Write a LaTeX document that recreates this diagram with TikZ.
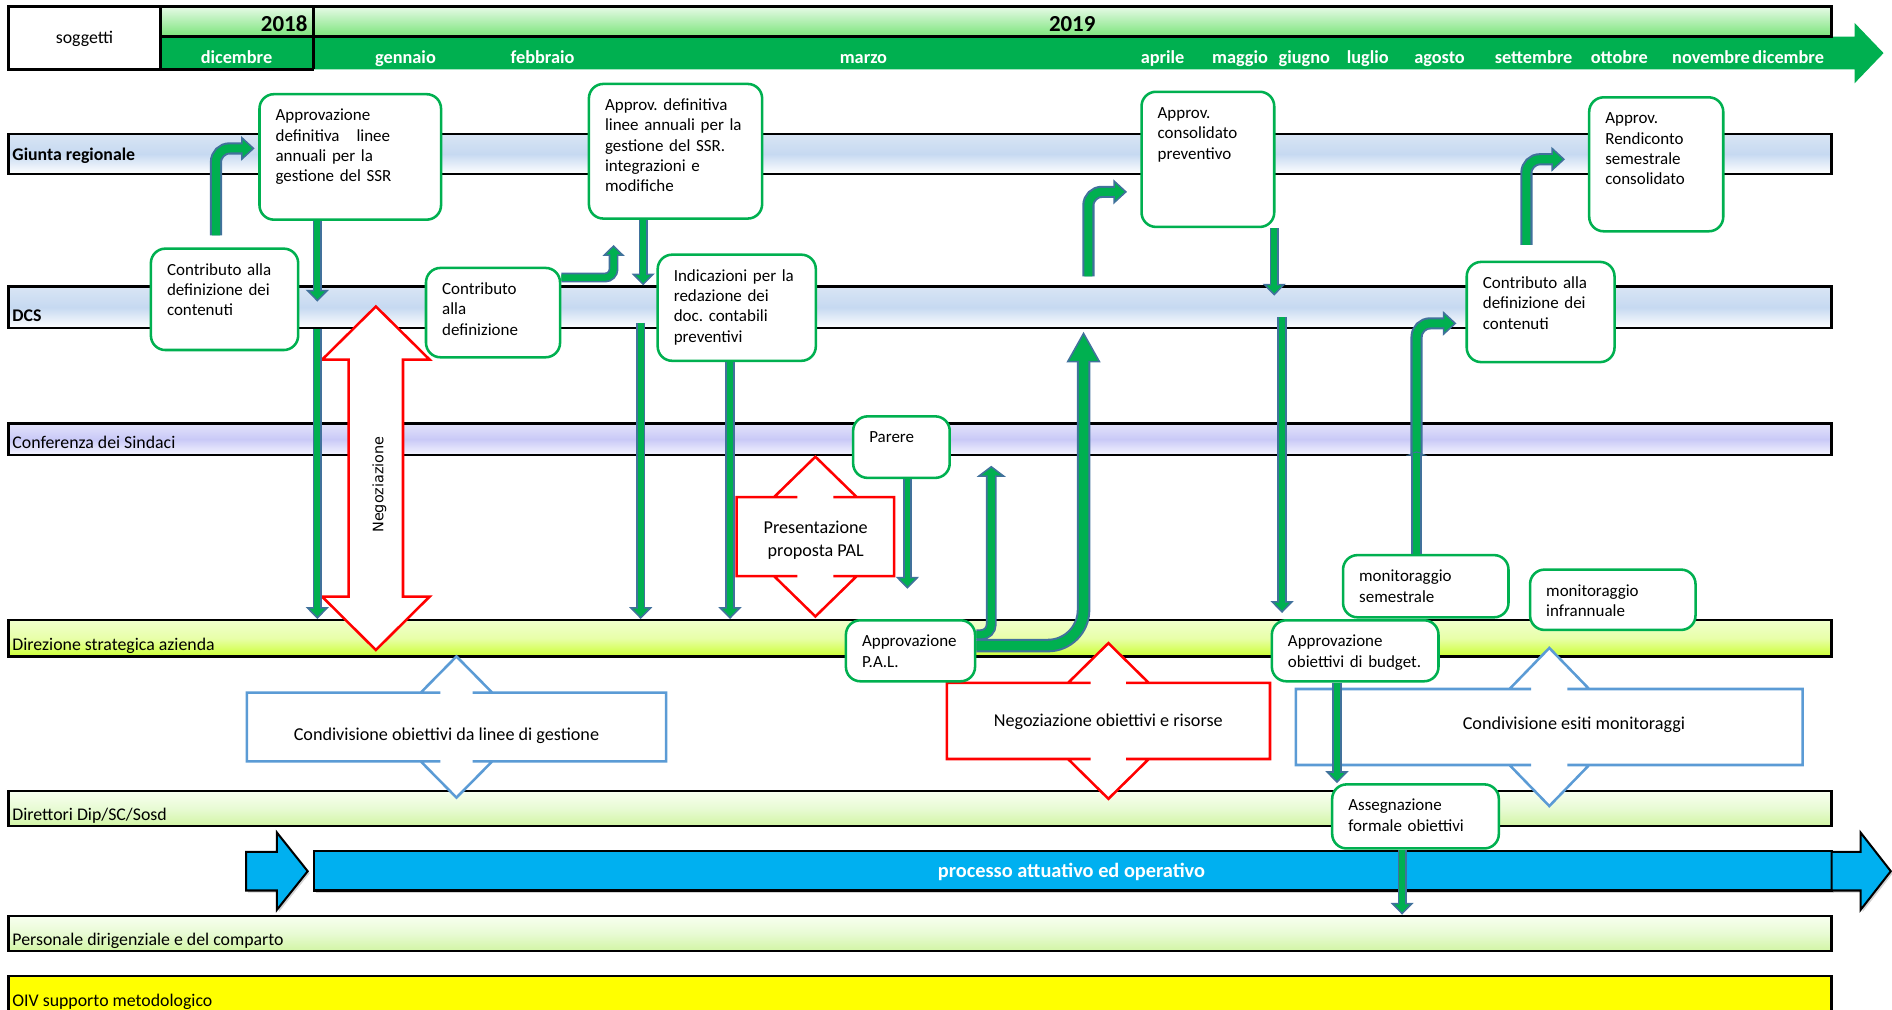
\documentclass[tikz,border=0pt]{standalone}
\usepackage{fontspec}
\setmainfont{Carlito}
\newfontfamily\negfont{DejaVu Sans}
\usetikzlibrary{arrows.meta,fit,shadows}
\definecolor{grn}{HTML}{00B050}
\definecolor{stl}{HTML}{41719C}
\definecolor{cblue}{HTML}{5B9BD5}
\definecolor{cyn}{HTML}{00B0F0}
\definecolor{hdtop}{HTML}{E6FAE6}
\definecolor{hdbot}{HTML}{7AE47A}
\pgfdeclarelayer{back}
\pgfsetlayers{back,main}
\frenchspacing

\begin{document}
\begin{tikzpicture}[x=0.025cm, y=-0.025cm, line join=miter,
    lane/.style={draw, line width=1.4pt, inner sep=0pt},
    lbl/.style={anchor=base west, inner sep=0pt, font=\fontsize{10.5}{12}\selectfont},
    month/.style={anchor=base, inner sep=0pt, text=white, font=\fontsize{10.8}{13}\selectfont\bfseries},
    gbox/.style 2 args={draw=grn, line width=1.5pt, rounded corners=8.5pt, fill=white,
      anchor=north west, inner xsep=9.5pt, inner ysep=9pt, align=left,
      text width=#1, text height=6.65pt, text depth=#2, font=\fontsize{10}{12}\selectfont},
    blk/.style n args={4}{draw=stl, line width=#1,
      -{Triangle[width=#3, length=#4, fill=grn, color=stl, line width=0.9pt]},
      postaction={draw=grn, line width=#2, -, shorten >=0.5*#4}},
    tharr/.style={blk={5.4pt}{3.4pt}{13.5pt}{7pt}},
    bnarr/.style={blk={7.2pt}{4.8pt}{14.5pt}{8pt}, rounded corners=8pt},
    callout/.style={line width=1.5pt, fill=white},
    ctxt/.style={align=center, inner sep=0pt, font=\fontsize{10.7}{13.5}\selectfont},
    procarr/.style={fill=cyn, draw=black, line width=1.2pt,
      drop shadow={shadow xshift=1.2pt, shadow yshift=-1.2pt, opacity=0.35}}]
  \useasboundingbox (0,0) rectangle (1568,837);

  % lanes
  \begin{pgfonlayer}{back}
  \foreach \n/\ya/\yb/\ct/\cm/\cb in {giunta/111/144/D9E5F4/C6D9F1/FFFFFF,
      dcs/237.5/272/D9E5F4/C6D9F1/FFFFFF, conf/351/377/E3E3FB/C9C9F7/F5F5FF,
      dir/514/544/F0FFCC/E8FFA8/CCFF33, dtt/655.6/684.3/F8FFF0/E8FBD4/D2F5A5,
      pers/759/788/F8FFF0/E8FBD4/D2F5A5, oiv/808.6/850/FFFF00/FFFF00/FFFF00} {
    \definecolor{lt}{HTML}{\ct}\definecolor{lm}{HTML}{\cm}\definecolor{lb}{HTML}{\cb}
    \node[lane, top color=lt, bottom color=lb, middle color=lm, fit={(7,\ya) (1518,\yb)}] (\n) {};
  }
  \end{pgfonlayer}
  \node[lbl, font=\fontsize{10.5}{12}\selectfont\bfseries] (lgiunta) at (10,132.6) {Giunta regionale};
  \node[lbl, font=\fontsize{10.5}{12}\selectfont\bfseries] (ldcs) at (10,266.6) {DCS};
  \node[lbl] (lconf) at (10,372) {Conferenza dei Sindaci};
  \node[lbl] (ldir) at (10,539) {Direzione strategica azienda};
  \node[lbl] (ldtt) at (10,680) {Direttori Dip/SC/Sosd};
  \node[lbl] (lpers) at (10,783.7) {Personale dirigenziale e del comparto};
  \node[lbl] (loiv) at (10,834.3) {OIV supporto metodologico};

  % header
  \shade[top color=hdtop, bottom color=hdbot] (133,5.5) rectangle (1518,30.4);
  \fill[grn] (133,30.4) -- (1537,30.4) -- (1537,19) -- (1561,44) -- (1537,69)
    -- (1537,57.5) -- (133,57.5) -- cycle;
  \draw[line width=1.5pt] (7,5.5) rectangle (133,57.5);
  \draw[line width=1.5pt] (133,5.5) -- (1518,5.5) -- (1518,30.4) -- (133,30.4);
  \draw[line width=1.5pt] (260,5.5) -- (260,57.5) (133,57.5) -- (260,57.5);
  \node[anchor=base, font=\fontsize{10.5}{12}\selectfont] (sogg) at (70,36) {soggetti};
  \node[anchor=base east, inner sep=0pt, font=\fontsize{13.5}{16}\selectfont\bfseries] (y18) at (255,25.7) {2018};
  \node[anchor=base, inner sep=0pt, font=\fontsize{13.5}{16}\selectfont\bfseries] (y19) at (888.6,25.7) {2019};
  \foreach \m/\x [count=\i] in {dicembre/196, gennaio/336, febbraio/449.6, marzo/715.6,
      aprile/963.5, maggio/1027.7, giugno/1081, luglio/1133.5, agosto/1193,
      settembre/1271, ottobre/1342, novembre/1418, dicembre/1482}
    \node[month] (m\i) at (\x,52.5) {\m};

  % boxes
  \node[gbox={67.8pt}{35.1pt}] (contr1) at (124,205) {Contributo alla\\definizione dei\\contenuti};
  \node[gbox={88pt}{49.3pt}] (apdef) at (214,77) {Approvazione\\definitiva\ \ \ linee\\annuali per la\\gestione del SSR};
  \node[gbox={60pt}{28pt}] (contr2) at (352,221) {Contributo\\alla\\definizione};
  \node[gbox={83.1pt}{54.7pt}] (apmod) at (487,68.5) {Approv. definitiva\\linee annuali per la\\gestione del SSR.\\integrazioni e\\modifiche};
  \node[gbox={74.2pt}{37.9pt}] (indic) at (544,210) {Indicazioni per la\\redazione dei\\doc. contabili\\preventivi};
  \node[gbox={37.9pt}{11.6pt}] (parere) at (706,344) {Parere};
  \node[gbox={57.1pt}{11.3pt}] (appal) at (700,513) {Approvazione\\P.A.L.};
  \node[gbox={59.2pt}{55pt}] (apcons) at (945,75) {Approv.\\consolidato\\preventivo};
  \node[gbox={79.2pt}{11.3pt}] (apbud) at (1053,513) {Approvazione\\obiettivi di budget.};
  \node[gbox={78.5pt}{12pt}] (monsem) at (1112,459) {monitoraggio\\semestrale};
  \node[gbox={78.5pt}{10.9pt}] (moninf) at (1267,471) {monitoraggio\\infrannuale};
  \node[gbox={68.1pt}{34.4pt}] (contr3) at (1214.5,216) {Contributo alla\\definizione dei\\contenuti};
  \node[gbox={60pt}{54.3pt}] (aprend) at (1316,79.6) {Approv.\\Rendiconto\\semestrale\\consolidato};
  \node[gbox={79.2pt}{13.1pt}] (asseg) at (1103,649) {Assegnazione\\formale obiettivi};

  % red and blue callouts
  \begin{pgfonlayer}{back}
  \draw[callout, draw=red] (311.5,254) -- (356,298) -- (334,298) -- (334,494.5) -- (356,494.5)
    -- (311.5,538.7) -- (267,494.5) -- (289,494.5) -- (289,298) -- (267,298) -- cycle;
  \foreach \xa/\ya/\xb/\yb/\nk/\hd/\ln/\c in {610.5/412/741/477.4/15/34.3/33.5/red,
      784.7/566/1052.5/629/14.7/33.5/33/red, 204.6/574/552/631/13.3/29.6/30/cblue,
      1074/571/1494/634/15/33/34/cblue} {
    \pgfmathsetmacro\cx{(\xa+\xb)/2}
    \draw[callout, draw=\c] (\xa,\ya) -- (\cx-\nk,\ya) -- (\cx-\hd,\ya) -- (\cx,\ya-\ln)
      -- (\cx+\hd,\ya) -- (\cx+\nk,\ya) -- (\xb,\ya) -- (\xb,\yb) -- (\cx+\nk,\yb)
      -- (\cx+\hd,\yb) -- (\cx,\yb+\ln) -- (\cx-\hd,\yb) -- (\cx-\nk,\yb) -- (\xa,\yb) -- cycle;
  }
  \end{pgfonlayer}
  \node[rotate=90, inner sep=0pt, font=\negfont\fontsize{8.5}{10}\selectfont] (neg) at (314.5,401.5) {Negoziazione};
  \node[ctxt] (pal) at (676,448) {Presentazione\\proposta PAL};
  \node[ctxt] (negob) at (918.5,597.8) {Negoziazione obiettivi e risorse};
  \node[ctxt] (condob) at (370,609.8) {Condivisione obiettivi da linee di gestione};
  \node[ctxt] (condes) at (1304.4,600.8) {Condivisione esiti monitoraggi};

  % processo attuativo
  \path[procarr] (204,706) -- (229.5,706) -- (229.5,690) -- (255,722) -- (229.5,754)
    -- (229.5,738) -- (204,738) -- cycle;
  \path[procarr] (260,705) rectangle (1518,738);
  \path[procarr] (1518,706) -- (1542,706) -- (1542,690) -- (1567,722) -- (1542,754)
    -- (1542,738) -- (1518,738) -- cycle;
  \node[text=white, font=\fontsize{12}{14}\selectfont\bfseries] (proc) at (888,722.5) {processo attuativo ed operativo};

  % arrows
  \coordinate (a1) at (263,250);
  \coordinate (d0) at (531,267.5);
  \coordinate (f1) at (752,488);
  \coordinate (g1) at (821.5,386);
  \coordinate (h1) at (898,275);
  \coordinate (i1) at (1056,245);
  \coordinate (j0) at (1062.5,263);
  \coordinate (j1) at (1062.5,508);
  \coordinate (m0) at (1174,378);
  \coordinate (m1) at (1174,374);
  \coordinate (m2) at (1207,268);
  \coordinate (n0) at (179,195);
  \coordinate (n1) at (211,123);
  \coordinate (o1) at (508.5,203);
  \coordinate (p0) at (902,229);
  \coordinate (p1) at (934,159);
  \coordinate (q0) at (1265,203);
  \coordinate (q1) at (1297,132);
  \draw[tharr] (apdef.south -| a1) -- (a1);
  \draw[tharr] (dcs.south -| 263,0) -- (dir.north -| 263,0);
  \draw[tharr] (apmod.south -| 533,0) -- (dcs.north -| 533,0);
  \draw[tharr] (d0) -- (dir.north -| d0);
  \draw[tharr] (indic.south -| 605,0) -- (dir.north -| 605,0);
  \draw[tharr] (parere.south -| f1) -- (f1);
  \draw[blk={6.4pt}{4.3pt}{17pt}{6.5pt}, rounded corners=6pt] (appal.east |- 0,526) -| (g1);
  \draw[blk={8pt}{5.6pt}{20pt}{18pt}, rounded corners=21pt] (appal.east |- 0,535) -| (h1);
  \draw[tharr] (apcons.south -| i1) -- (i1);
  \draw[tharr] (j0) -- (j1);
  \draw[tharr] (apbud.south -| 1108,0) -- (asseg.north -| 1108,0);
  \draw[tharr] (asseg.south -| 1162,0) -- (pers.north -| 1162,0);
  \draw[bnarr] (m0) |- (m2);
  \draw[blk={6.6pt}{4.4pt}{12.5pt}{2.5pt}] (monsem.north -| m1) -- (m1);
  \draw[bnarr] (n0) |- (n1);
  \draw[blk={5.8pt}{3.8pt}{13pt}{6.5pt}, rounded corners=5pt] (contr2.east |- 0,230) -| (o1);
  \draw[bnarr] (p0) |- (p1);
  \draw[bnarr] (q0) |- (q1);
\end{tikzpicture}
\end{document}
